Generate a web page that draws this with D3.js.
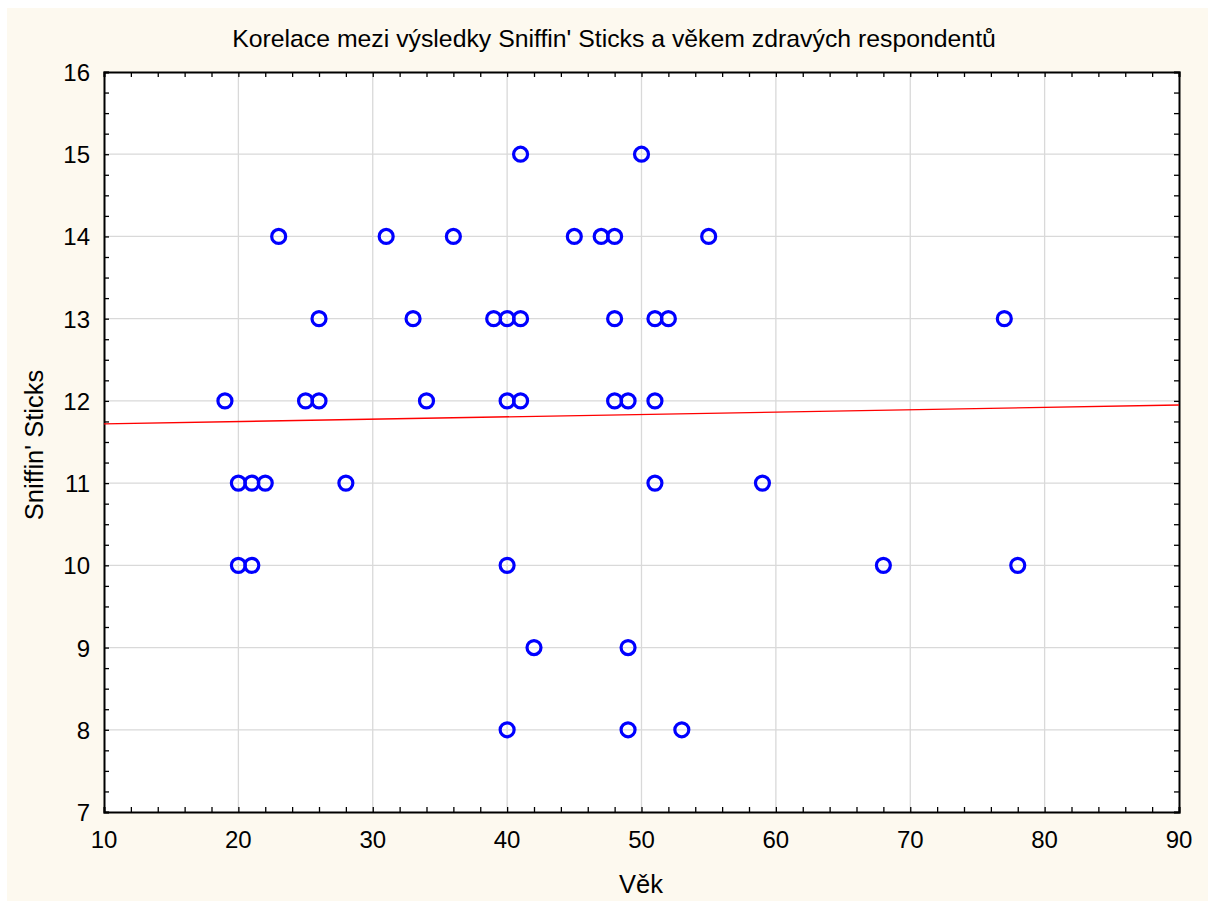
<!DOCTYPE html>
<html><head><meta charset="utf-8">
<script src="https://cdn.jsdelivr.net/npm/d3@7"></script>
<style>body{margin:0;background:#fff}svg{display:block;font-family:Arial,"Liberation Sans",sans-serif}</style>
</head><body><svg id="c" width="1208" height="901"></svg>
<script>
const title = "Korelace mezi výsledky Sniffin' Sticks a věkem zdravých respondentů";
const xLabel = "Věk";
const yLabel = "Sniffin' Sticks";
const ages =   [41,50, 23,31,36,45,47,48,55, 26,33,39,40,41,48,51,52,77, 19,25,26,34,40,41,48,49,51, 20,21,22,28,51,59, 20,21,40,68,78, 42,49, 40,49,53];
const scores = [15,15, 14,14,14,14,14,14,14, 13,13,13,13,13,13,13,13,13, 12,12,12,12,12,12,12,12,12, 11,11,11,11,11,11, 10,10,10,10,10, 9,9, 8,8,8];
const fitAge = [10, 90];
const fitScore = [11.72, 11.95];
const xTicks = [10,20,30,40,50,60,70,80,90];
const yTicks = [7,8,9,10,11,12,13,14,15,16];

const svg = d3.select("#c");
svg.append("rect").attr("x",7).attr("y",8).attr("width",1201).attr("height",893).attr("fill","#fdf9ef");
const L=104,R=1179,T=72,B=812;
const x = d3.scaleLinear().domain([10,90]).range([L,R]);
const y = d3.scaleLinear().domain([7,16]).range([B,T]);
svg.append("rect").attr("x",L).attr("y",T).attr("width",R-L).attr("height",B-T).attr("fill","#fff");
const g = svg.append("g");
g.selectAll(".gx").data(xTicks.slice(1,-1)).join("line").attr("x1",d=>x(d)).attr("x2",d=>x(d)).attr("y1",T).attr("y2",B).attr("stroke","#d9d9d9").attr("stroke-width",1.3);
g.selectAll(".gy").data(yTicks.slice(1,-1)).join("line").attr("y1",d=>y(d)).attr("y2",d=>y(d)).attr("x1",L).attr("x2",R).attr("stroke","#d9d9d9").attr("stroke-width",1.3);

const xMinor = d3.range(10,90.01,2);
const yMinor = d3.range(7,16.01,0.25);
const axB = d3.axisBottom(x).tickValues(xMinor).tickSize(-5).tickFormat(()=>"");
const axT = d3.axisTop(x).tickValues(xMinor).tickSize(-5).tickFormat(()=>"");
const axL = d3.axisLeft(y).tickValues(yMinor).tickSize(-5).tickFormat(()=>"");
const axR = d3.axisRight(y).tickValues(yMinor).tickSize(-5).tickFormat(()=>"");
[[axB,`translate(0,${B})`],[axT,`translate(0,${T})`],[axL,`translate(${L},0)`],[axR,`translate(${R},0)`]].forEach(([a,t])=>{
  const ga=svg.append("g").attr("transform",t).call(a);
  ga.select(".domain").attr("stroke","#000").attr("stroke-width",2);
  ga.selectAll(".tick line").attr("stroke","#000").attr("stroke-width",1.3);
});
svg.append("g").selectAll("text").data(xTicks).join("text").attr("x",d=>x(d)).attr("y",848).attr("text-anchor","middle").attr("font-size",24).text(d=>d);
svg.append("g").selectAll("text").data(yTicks).join("text").attr("x",90).attr("y",d=>y(d)+9).attr("text-anchor","end").attr("font-size",24).text(d=>d);

svg.append("path").datum(fitAge.map((a,i)=>[a,fitScore[i]])).attr("d",d3.line().x(d=>x(d[0])).y(d=>y(d[1]))).attr("stroke","#ff0000").attr("stroke-width",1.3).attr("fill","none");
svg.append("g").selectAll("circle").data(ages.map((a,i)=>[a,scores[i]])).join("circle")
  .attr("cx",d=>x(d[0])).attr("cy",d=>y(d[1])).attr("r",7).attr("fill","none").attr("stroke","#0000ff").attr("stroke-width",3.2);

svg.append("text").attr("x",614).attr("y",47).attr("text-anchor","middle").attr("font-size",24.8).text(title);
svg.append("text").attr("x",641).attr("y",893).attr("text-anchor","middle").attr("font-size",25.5).text(xLabel);
svg.append("text").attr("transform",`translate(43,445) rotate(-90)`).attr("text-anchor","middle").attr("font-size",25.5).text(yLabel);
</script></body></html>
